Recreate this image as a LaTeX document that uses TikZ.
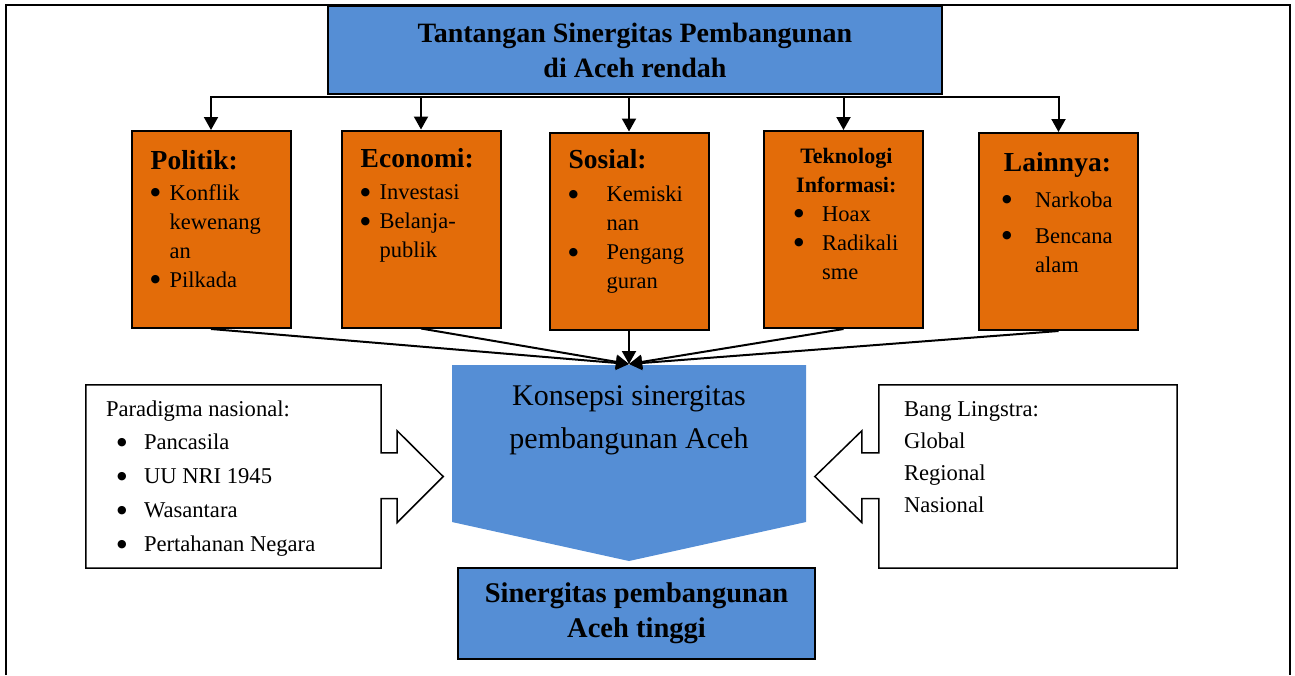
\documentclass[tikz,border=0pt]{standalone}
\usepackage{fontspec}
\setmainfont{Liberation Serif}
\newfontfamily\dotfont{DejaVu Sans}
\usetikzlibrary{arrows.meta,positioning,calc}
\definecolor{sky}{HTML}{558ED5}
\definecolor{rust}{HTML}{E36C09}
\tikzset{head/.style={draw=black,line width=1.5pt,fill=sky,align=center,inner sep=0pt}, issue/.style={draw=black,line width=2pt,fill=rust,minimum width=159pt,minimum height=197pt,inner sep=0pt}, itxt/.style={anchor=base west,inner sep=0pt,font=\fontsize{22.5}{29}\selectfont}, wtxt/.style={anchor=base west,inner sep=0pt}, slot/.style={minimum width=#1,minimum height=183pt,inner sep=0pt}, note/.style={draw=black,line width=1.5pt,fill=white,line join=miter}, arr/.style={-{Triangle[length=13pt,width=14pt]},line width=2pt}}
\newcommand{\hd}[1]{{\fontsize{27.5}{29}\selectfont\bfseries #1}}
\newcommand{\hdsm}[1]{{\fontsize{22}{29}\selectfont\bfseries #1}}
\newcommand{\bul}{\raisebox{4.2pt}{\dotfont\fontsize{11}{11}\selectfont ●}}

\begin{document}
\begin{tikzpicture}[x=1pt,y=-1pt]
\useasboundingbox (0,0) rectangle (1295,675);
\draw[line width=1.5pt] (6,675) -- (6,5) -- (1290,5) -- (1290,675);
% top box and the five fields
\node[head,minimum width=614pt,minimum height=88pt,font=\fontsize{28}{35}\selectfont\bfseries] (tant) at (635,50) {Tantangan Sinergitas Pembangunan\\di Aceh rendah};
\node[issue] (pol) at (211,229.5) {};
\node[issue] (eko) at (421,229) {};
\node[issue] (sos) at (629,231) {};
\node[issue] (tek) at (843.5,229.5) {};
\node[issue] (lain) at (1058.5,231.5) {};
\node[itxt] (polT) at ($(pol.north west)+(20,39)$) {\begin{tabular}[t]{@{}p{19pt}@{}l@{}}\multicolumn{2}{@{}l@{}}{\hd{Politik:}}\\[2pt] \bul & Konflik\\ & kewenang\\ & an\\ \bul & Pilkada\end{tabular}};
\node[itxt] (ekoT) at ($(eko.north west)+(20,38)$) {\begin{tabular}[t]{@{}p{19pt}@{}l@{}}\multicolumn{2}{@{}l@{}}{\hd{Economi:}}\\[3pt] \bul & Investasi\\ \bul & Belanja-\\ & publik\end{tabular}};
\node[itxt] (sosT) at ($(sos.north west)+(20,37)$) {\begin{tabular}[t]{@{}p{38pt}@{}l@{}}\multicolumn{2}{@{}l@{}}{\hd{Sosial:}}\\[4pt] \bul & Kemiski\\ & nan\\ \bul & Pengang\\ & guran\end{tabular}};
\node[itxt] (tekT) at ($(tek.north west)+(31,33)$) {\begin{tabular}[t]{@{}p{28pt}@{}l@{}}\multicolumn{2}{@{}c@{}}{\hdsm{Teknologi}}\\ \multicolumn{2}{@{}c@{}}{\hdsm{Informasi:}}\\ \bul & Hoax\\ \bul & Radikali\\ & sme\end{tabular}};
\node[itxt] (lainT) at ($(lain.north west)+(24,39)$) {\begin{tabular}[t]{@{}p{33pt}@{}l@{}}\multicolumn{2}{@{}c@{}}{\hd{Lainnya:}}\\[7pt] \bul & Narkoba\\[7pt] \bul & Bencana\\ & alam\end{tabular}};
\coordinate (bus) at ($(tant.south)+(0,2)$);
\draw[arr] (sos.north |- bus) -| (pol.north);
\draw[arr] (sos.north |- bus) -| (lain.north);
\foreach \b in {eko,sos,tek}{\draw[arr] (\b.north |- bus) -- (\b.north);}
% konsepsi, pointing down
\fill[sky] (452,365) -- (806,365) -- (806,522) -- (629,561) -- (452,522) -- cycle;
\node[font=\fontsize{30}{43}\selectfont,align=center,inner sep=0pt] (kons) at (629,420) {Konsepsi sinergitas\\pembangunan Aceh};
\coordinate (hit) at (629,364);
\foreach \b in {pol,eko,sos,tek,lain}{\draw[arr] (\b.south) -- (hit);}
\node[head,line width=2pt,minimum width=357pt,minimum height=91pt,font=\fontsize{28.5}{35}\selectfont\bfseries] (hasil) at (636.5,613.5) {Sinergitas pembangunan\\Aceh tinggi};
% side inputs
\node[slot=295pt] (parad) at (233.5,476.5) {};
\draw[note] (parad.north west) -- (parad.north east) -- ++(0,68) -- ++(16,0) -- ++(0,-22) -- ($(parad.east)+(62,0)$) -- ++(-46,46) -- ++(0,-24) -- ++(-16,0) -- (parad.south east) -- (parad.south west) -- cycle;
\node[wtxt,font=\fontsize{22.6}{34}\selectfont] (paradT) at ($(parad.north west)+(20,32)$) {\begin{tabular}[t]{@{}p{11pt}@{}p{27pt}@{}l@{}}\multicolumn{3}{@{}l@{}}{Paradigma nasional:}\\[-1pt] & \bul & Pancasila\\ & \bul & UU NRI 1945\\ & \bul & Wasantara\\ & \bul & Pertahanan Negara\end{tabular}};
\node[slot=298pt] (bang) at (1028,476.5) {};
\draw[note] (bang.north east) -- (bang.north west) -- ++(0,68) -- ++(-17,0) -- ++(0,-22) -- ($(bang.west)+(-64,0)$) -- ++(47,46) -- ++(0,-24) -- ++(17,0) -- (bang.south west) -- (bang.south east) -- cycle;
\node[wtxt,font=\fontsize{22.6}{32}\selectfont] (bangT) at ($(bang.north west)+(25,32)$) {\begin{tabular}[t]{@{}l@{}}Bang Lingstra:\\ Global\\ Regional\\ Nasional\end{tabular}};
\end{tikzpicture}
\end{document}
